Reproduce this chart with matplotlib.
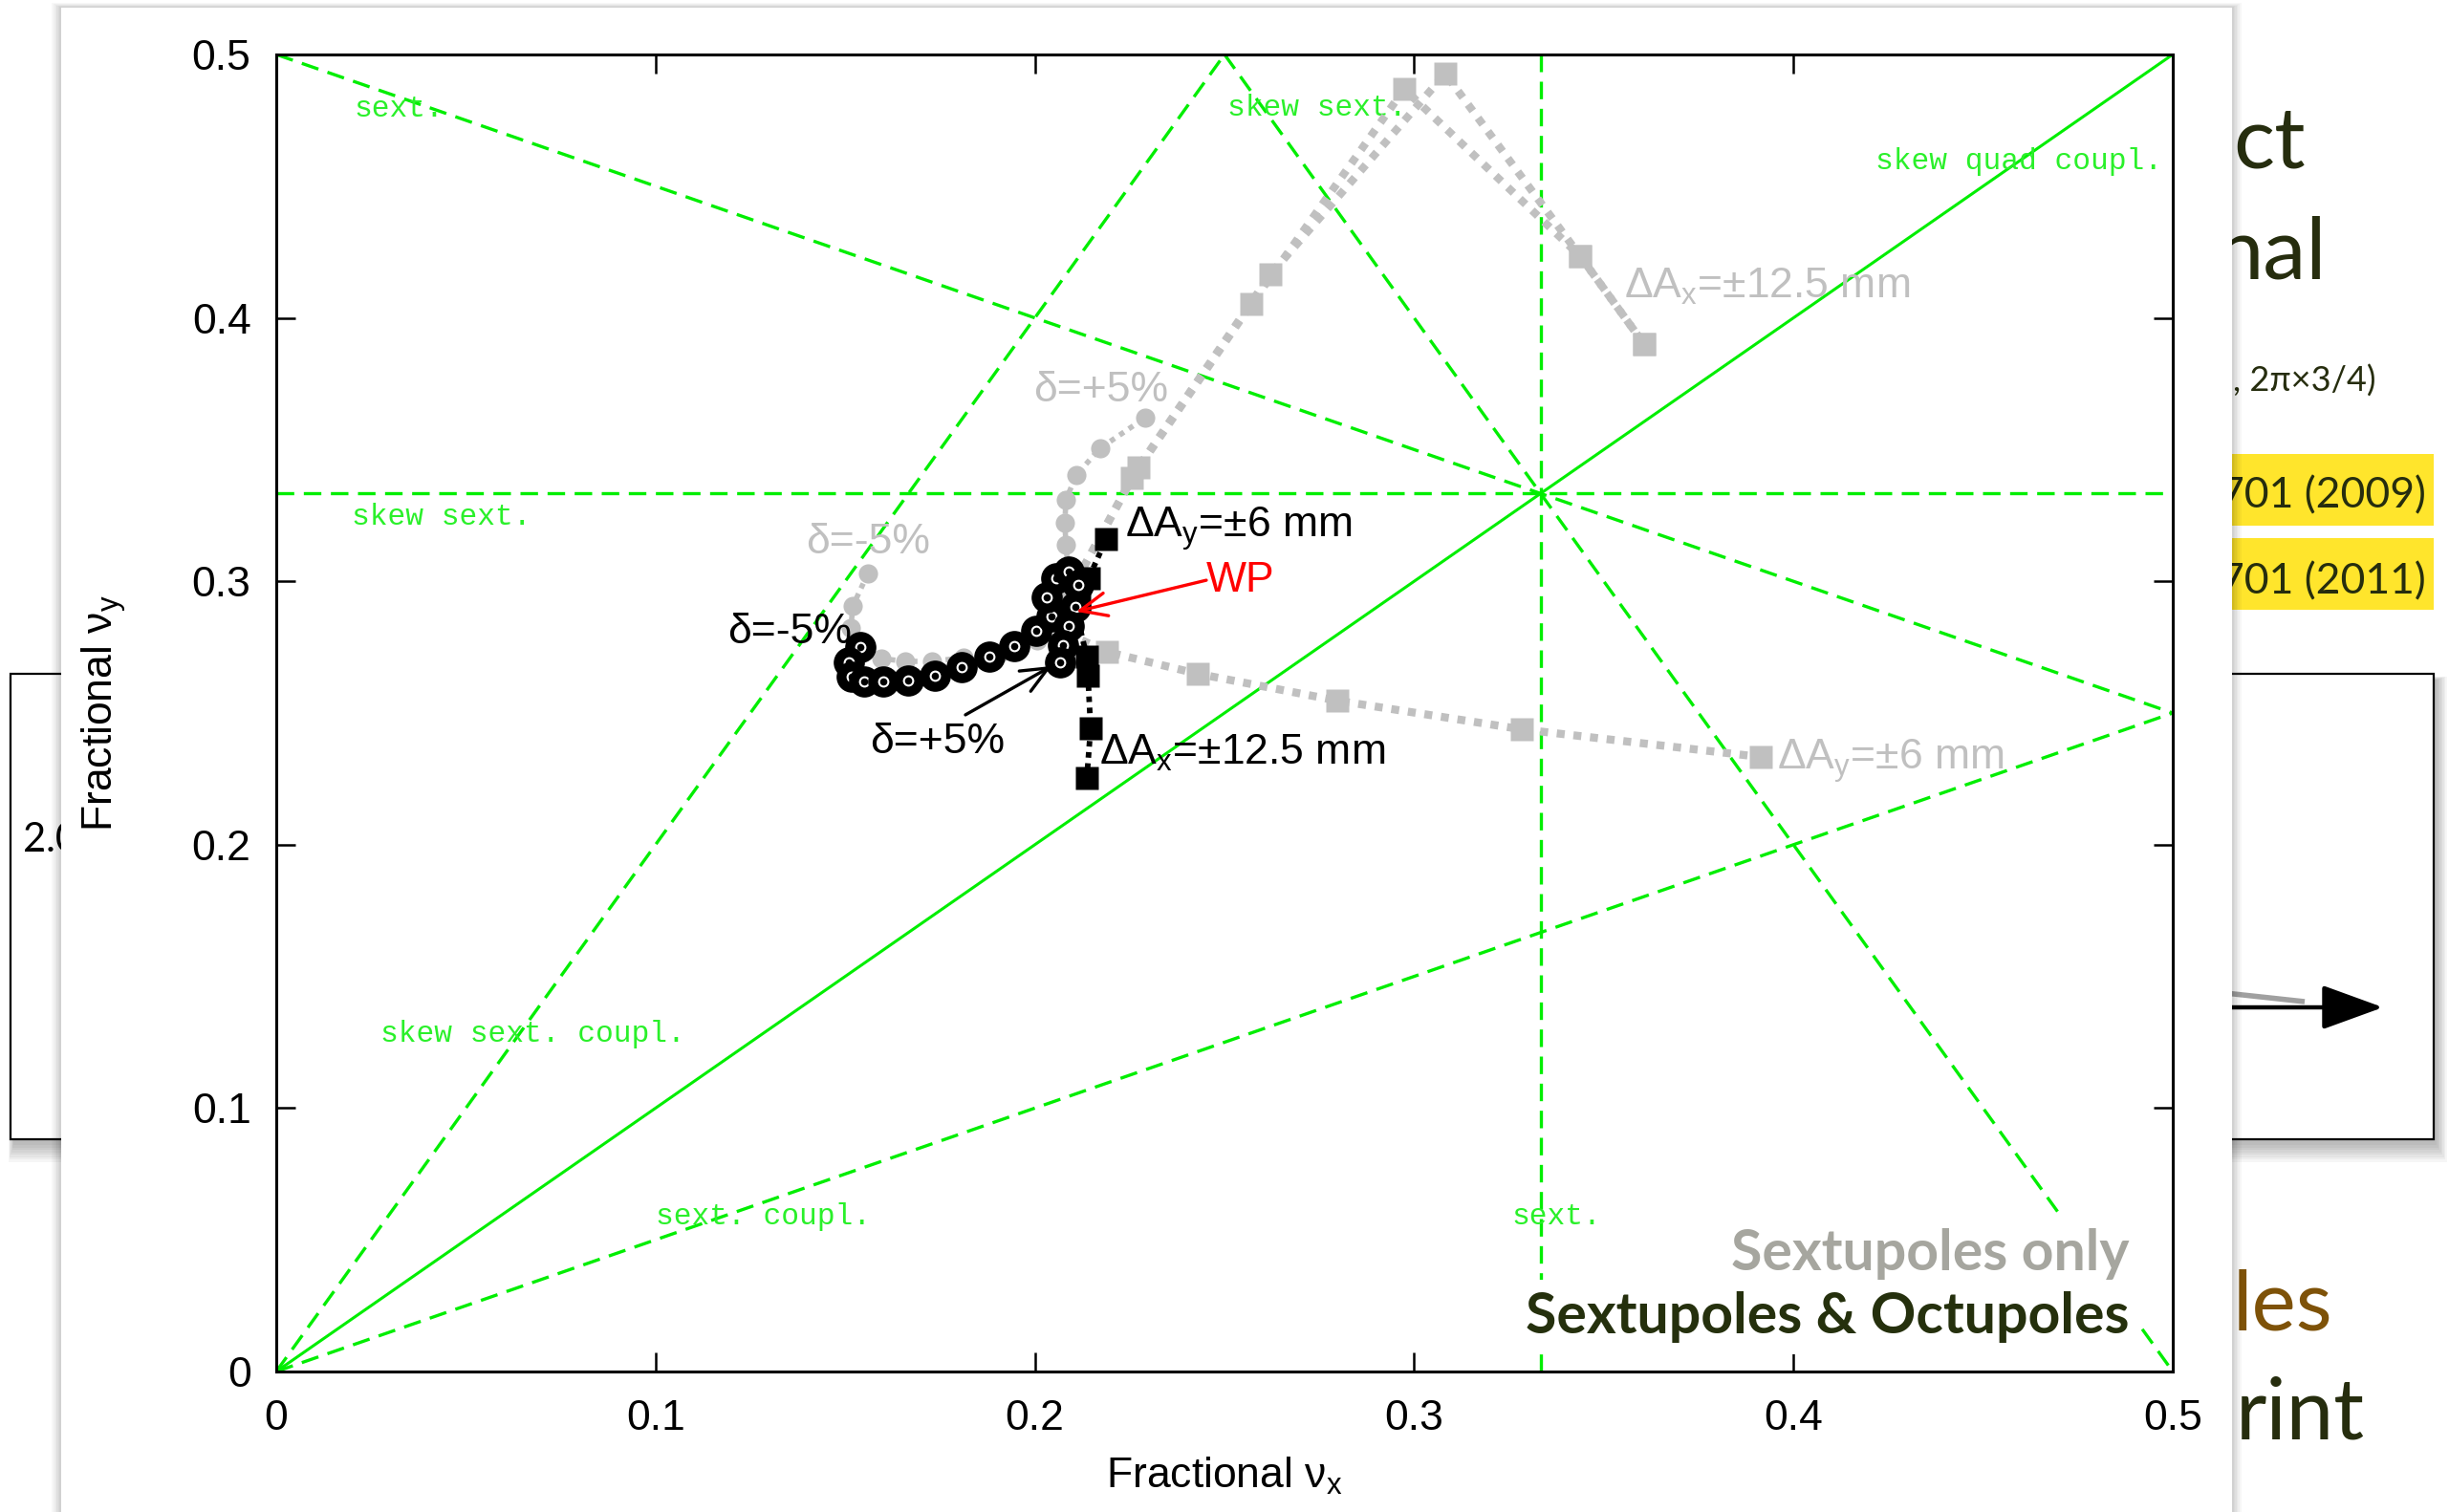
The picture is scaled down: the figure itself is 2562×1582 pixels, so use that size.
import matplotlib
matplotlib.use("Agg")
import matplotlib.pyplot as plt
from matplotlib.patches import Rectangle

plt.rcParams['font.family'] = ['Liberation Sans', 'DejaVu Sans']
plt.rcParams['mathtext.fontset'] = 'custom'
plt.rcParams['mathtext.rm'] = 'Liberation Sans'
plt.rcParams['mathtext.it'] = 'Liberation Sans:italic'
plt.rcParams['mathtext.default'] = 'regular'

# ---------------- data ----------------
# resonance lines of the fractional tune diagram
res_solid_x = [0.0, 0.5]
res_solid_y = [0.0, 0.5]
res_dashed_x = [[0.0, 0.25], [0.0, 0.5], [0.0, 0.5], [0.25, 0.5], [0.0, 0.5], [1/3, 1/3]]
res_dashed_y = [[0.0, 0.5], [0.0, 0.25], [0.5, 0.25], [0.5, 0.0], [1/3, 1/3], [0.0, 0.5]]

res_labels = ["sext.", "skew sext.", "skew quad coupl.", "skew sext.",
              "skew sext. coupl.", "sext. coupl.", "sext."]
res_label_x = [0.0204, 0.2508, 0.4972, 0.0199, 0.0275, 0.1001, 0.3256]
res_label_y = [0.4764, 0.4768, 0.4565, 0.3215, 0.1252, 0.0559, 0.0559]
res_label_ha = ['left', 'left', 'right', 'left', 'left', 'left', 'left']

# Sextupoles only (grey)
s_wp = (0.2044, 0.2830)
s_chrom_x = [0.1560, 0.1520, 0.1515, 0.1545, 0.1595, 0.1658, 0.1729, 0.1812, 0.1908, 0.2006,
             0.2074, 0.2089, 0.2087, 0.2082, 0.2079, 0.2082, 0.2109, 0.2172, 0.2291]
s_chrom_y = [0.3030, 0.2906, 0.2823, 0.2747, 0.2707, 0.2696, 0.2696, 0.2710, 0.2729, 0.2776,
             0.2848, 0.2939, 0.3055, 0.3139, 0.3222, 0.3309, 0.3403, 0.3505, 0.3621]
s_ax_a_x = [0.2256, 0.2571, 0.2974, 0.3438, 0.3606]
s_ax_a_y = [0.3393, 0.4053, 0.4869, 0.4234, 0.3901]
s_ax_b_x = [0.2273, 0.2621, 0.3082, 0.3438, 0.3606]
s_ax_b_y = [0.3433, 0.4165, 0.4927, 0.4234, 0.3901]
s_ay_x = [0.2190, 0.2429, 0.2797, 0.3284, 0.3914]
s_ay_y = [0.2732, 0.2649, 0.2547, 0.2438, 0.2333]

# Sextupoles & Octupoles (black)
o_wp = (0.2107, 0.2896)
o_chrom_x = [0.1540, 0.1510, 0.1517, 0.1550, 0.1600, 0.1666, 0.1736, 0.1807, 0.1880, 0.1946,
             0.2004, 0.2044, 0.2032, 0.2057, 0.2090, 0.2115, 0.2108, 0.2090, 0.2075, 0.2067]
o_chrom_y = [0.2750, 0.2692, 0.2638, 0.2620, 0.2620, 0.2623, 0.2642, 0.2674, 0.2714, 0.2754,
             0.2812, 0.2866, 0.2939, 0.3012, 0.3037, 0.2986, 0.2903, 0.2830, 0.2758, 0.2692]
o_ay_x = [0.2117, 0.2142, 0.2188]
o_ay_y = [0.2925, 0.3012, 0.3160]
o_ax_x = [0.2137, 0.2140, 0.2147, 0.2137]
o_ax_y = [0.2714, 0.2642, 0.2442, 0.2253]

ticks = [0.0, 0.1, 0.2, 0.3, 0.4, 0.5]
tick_labels = ['0', '0.1', '0.2', '0.3', '0.4', '0.5']

# ---------------- styles ----------------
GREEN = '#00ee00'
GREEN_TXT = '#2af02a'
GREY = '#c0c0c0'
DARK = '#262d0e'

W, H = 2562, 1582
fig = plt.figure(figsize=(W / 100, H / 100), dpi=100)
fig.patch.set_facecolor('white')

# ---------------- slide background ----------------
bg = fig.add_axes([0, 0, 1, 1])
bg.set_xlim(0, W)
bg.set_ylim(H, 0)
bg.axis('off')


def shadow_box(x0, y0, x1, y1, z):
    for i in range(8):
        d = i * 2.5
        bg.add_patch(Rectangle((x0 + 3 - d * 0.3, y0 + 6 - d * 0.2), (x1 - x0) + d * 0.9, (y1 - y0) + d * 1.2,
                               facecolor='black', edgecolor='none', alpha=0.035, zorder=z))
    bg.add_patch(Rectangle((x0, y0), x1 - x0, y1 - y0, facecolor='white', edgecolor='black',
                           lw=1.6, zorder=z + 0.1))


sfont = ['Lato', 'DejaVu Sans']
shadow_box(11, 705, 700, 1192, 1)
bg.text(24, 891, '2.0', fontsize=30, family=sfont, color='black', zorder=1.5)
shadow_box(1900, 705, 2546, 1192, 1)
bg.plot([2300, 2411], [1036, 1048], color='#a0a0a0', lw=4, zorder=1.6, solid_capstyle='butt')
bg.annotate('', xy=(2493, 1054), xytext=(2250, 1054),
            arrowprops=dict(arrowstyle='-|>,head_length=1.1,head_width=0.4', color='black', lw=3.2,
                            mutation_scale=36, shrinkA=0, shrinkB=0), zorder=1.7)

bg.add_patch(Rectangle((2300, 475), 246, 75, facecolor='#ffe52c', edgecolor='none', zorder=1))
bg.add_patch(Rectangle((2300, 563), 246, 75, facecolor='#ffe52c', edgecolor='none', zorder=1))
bg.text(2336, 176, 'ct', fontsize=65, family=sfont, color=DARK, zorder=1.5)
bg.text(2318, 292, 'nal', fontsize=65, family=sfont, color=DARK, zorder=1.5)
bg.text(2336, 410, ', 2π×3/4)', fontsize=26, family=sfont, color=DARK, zorder=1.5)
bg.text(2322, 531, '701 (2009)', fontsize=32, family=sfont, color=DARK, zorder=1.5)
bg.text(2322, 621, '701 (2011)', fontsize=32, family=sfont, color=DARK, zorder=1.5)
bg.text(2336, 1392, 'les', fontsize=63, family=sfont, color='#7e5208', zorder=1.5)
bg.text(2339, 1506, 'rint', fontsize=64, family=sfont, color=DARK, zorder=1.5)

# white panel holding the plot
px0, py0, px1, py1 = 64, 8, 2335, 1600
for i in range(7):
    d = i * 1.6
    bg.add_patch(Rectangle((px0 - d, py0 - d * 0.5), (px1 - px0) + 2 * d, (py1 - py0) + d,
                           facecolor='black', edgecolor='none', alpha=0.03, zorder=5))
bg.add_patch(Rectangle((px0, py0), px1 - px0, py1 - py0, facecolor='white', edgecolor='none', zorder=6))

# ---------------- tune diagram ----------------
ax = fig.add_axes([289 / W, 1 - 1435 / H, 1984 / W, 1378 / H])
ax.set_facecolor('white')
ax.set_xlim(0, 0.5)
ax.set_ylim(0, 0.5)
ax.set_xticks(ticks)
ax.set_xticklabels(tick_labels)
ax.set_yticks(ticks)
ax.set_yticklabels(tick_labels)
ax.tick_params(direction='in', length=14.5, width=1.8, top=True, right=True, labelsize=32)
ax.tick_params(axis='y', pad=19)
ax.tick_params(axis='x', pad=21)
for sp in ax.spines.values():
    sp.set_linewidth(2.2)
ax.set_xlabel(r'Fractional ν$_{\mathrm{x}}$', fontsize=32, labelpad=13)
ax.set_ylabel(r'Fractional ν$_{\mathrm{y}}$', fontsize=32, labelpad=48)

ax.plot(res_solid_x, res_solid_y, color=GREEN, lw=2.2, zorder=1)
for xs, ys in zip(res_dashed_x, res_dashed_y):
    ax.plot(xs, ys, color=GREEN, lw=2.4, linestyle=(0, (5.5, 3)), zorder=1)
for t, x, y, ha in zip(res_labels, res_label_x, res_label_y, res_label_ha):
    ax.text(x, y, t, fontsize=22.5, family=['Liberation Mono', 'DejaVu Sans Mono'],
            color=GREEN_TXT, ha=ha, va='baseline', zorder=1.5)

# grey: sextupoles only
dot = (0, (1, 1.1))
ax.plot(s_chrom_x, s_chrom_y, color=GREY, lw=4, linestyle=dot, marker='o', ms=14.5,
        mec='none', zorder=3)
for xs, ys in [(s_ax_a_x, s_ax_a_y), (s_ax_b_x, s_ax_b_y), (s_ay_x, s_ay_y)]:
    ax.plot([s_wp[0]] + xs, [s_wp[1]] + ys, color=GREY, lw=6, linestyle=dot, zorder=3)
    ax.plot(xs, ys, linestyle='none', marker='s', ms=17, color=GREY, mec='none', zorder=3.1)

# black: sextupoles & octupoles
for xs, ys in [(o_ay_x, o_ay_y), (o_ax_x, o_ax_y)]:
    ax.plot([o_wp[0]] + xs, [o_wp[1]] + ys, color='black', lw=4.2, linestyle=(0, (1, 1)), zorder=4)
    ax.plot(xs, ys, linestyle='none', marker='s', ms=17, color='black', mec='none', zorder=4.1)
for i, (x, y) in enumerate(zip(o_chrom_x, o_chrom_y)):
    z = 4.2 + i * 0.01
    ax.plot([x], [y], linestyle='none', marker='o', ms=23.5, color='black', mec='none', zorder=z)
    ax.plot([x], [y], linestyle='none', marker='o', ms=7, mfc='black', mec='white',
            mew=1.5, zorder=z + 0.005)

# annotations
lab = dict(fontsize=32, zorder=6)
ax.text(0.2175, 0.3726, 'δ=+5%', color=GREY, ha='center', va='center', **lab)
ax.text(0.1560, 0.3149, 'δ=-5%', color=GREY, ha='center', va='center', **lab)
ax.text(0.3553, 0.4075, r'ΔA$_{\mathrm{x}}$=±12.5 mm', color=GREY, ha='left', va='baseline', **lab)
ax.text(0.3957, 0.2286, r'ΔA$_{\mathrm{y}}$=±6 mm', color=GREY, ha='left', va='baseline', **lab)
ax.text(0.1190, 0.2805, 'δ=-5%', color='black', ha='left', va='center', fontsize=32, zorder=4.15)
ax.text(0.1744, 0.2388, 'δ=+5%', color='black', ha='center', va='center', **lab)
ax.text(0.2238, 0.3168, r'ΔA$_{\mathrm{y}}$=±6 mm', color='black', ha='left', va='baseline', **lab)
ax.text(0.2170, 0.2304, r'ΔA$_{\mathrm{x}}$=±12.5 mm', color='black', ha='left', va='baseline', **lab)
ax.text(0.2452, 0.3004, 'WP', color='red', ha='left', va='center', **lab)
ax.annotate('', xy=(0.2109, 0.2885), xytext=(0.2452, 0.3004),
            arrowprops=dict(arrowstyle='->,head_length=0.8,head_width=0.35', color='red', lw=2.4,
                            mutation_scale=25, shrinkA=0, shrinkB=0), zorder=6)
ax.annotate('', xy=(0.2044, 0.2678), xytext=(0.1817, 0.2493),
            arrowprops=dict(arrowstyle='->,head_length=0.8,head_width=0.35', color='black', lw=2.4,
                            mutation_scale=25, shrinkA=0, shrinkB=0), zorder=6)

bold = dict(family=['Lato', 'DejaVu Sans'], fontweight='bold', fontsize=42.5, ha='right', va='baseline',
            zorder=7)
ax.text(0.4886, 0.0384, 'Sextupoles only', color='#a6a69f',
        bbox=dict(facecolor='white', edgecolor='none', pad=9), **bold)
ax.text(0.4886, 0.0145, 'Sextupoles & Octupoles', color='#25300d',
        bbox=dict(facecolor='white', edgecolor='none', pad=9), **bold)

fig.savefig('out.png', dpi=100, facecolor='white')
